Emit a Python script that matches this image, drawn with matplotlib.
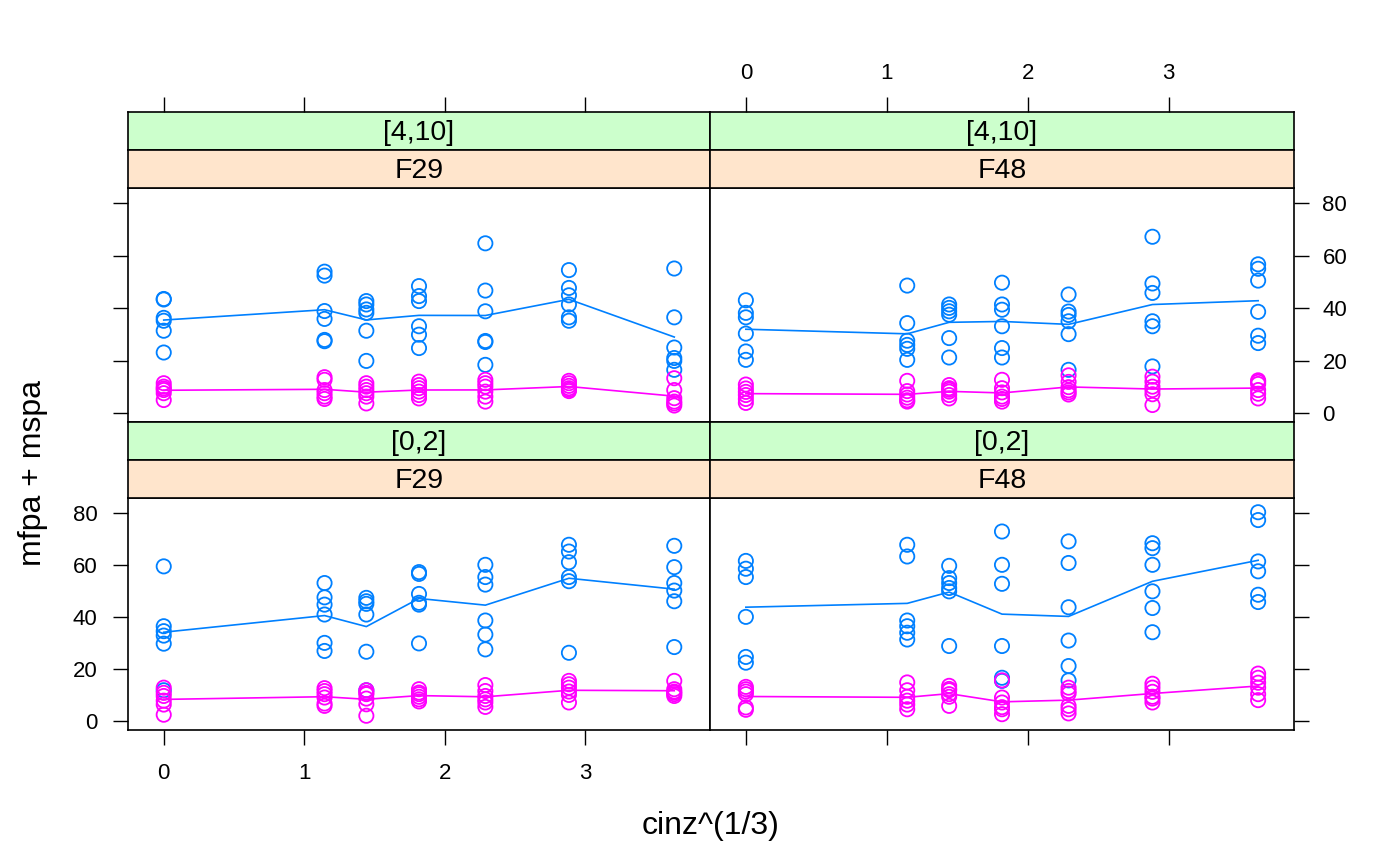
import numpy as np
import matplotlib
matplotlib.use("Agg")
import matplotlib.pyplot as plt

plt.rcParams['font.family'] = ['Liberation Sans', 'DejaVu Sans']

# cinz levels (x axis is cinz^(1/3))
cinz = [0, 1.5, 3, 6, 12, 24, 48]

# ---- panel F29, cinz group [4,10] ----
f29_hi_mfpa = [
    [43.6, 43.4, 36.4, 35.3, 31.5, 23.2],
    [54.0, 52.5, 39.0, 36.0, 28.0, 27.5],
    [42.8, 41.5, 39.6, 38.3, 31.5, 20.0],
    [48.5, 44.7, 42.8, 33.2, 30.0, 24.9],
    [64.8, 46.8, 38.9, 27.6, 27.2, 18.5],
    [54.6, 47.8, 45.0, 41.5, 36.6, 35.3],
    [55.2, 36.6, 25.1, 21.1, 20.0, 16.6],
]
f29_hi_mspa = [
    [11.5, 10.2, 9.5, 8.9, 7.7, 5.1],
    [13.8, 12.8, 8.9, 7.7, 6.4, 5.5],
    [11.5, 10.2, 8.9, 7.7, 6.4, 3.8],
    [12.1, 10.8, 9.6, 8.3, 7.0, 5.7],
    [12.8, 11.5, 10.2, 8.3, 6.4, 4.5],
    [12.4, 11.5, 10.5, 9.6, 9.0, 8.5],
    [13.4, 8.9, 5.8, 4.5, 3.8, 3.0],
]
# ---- panel F48, [4,10] ----
f48_hi_mfpa = [
    [43.1, 38.3, 36.6, 30.4, 23.6, 20.4],
    [48.7, 34.4, 27.7, 26.1, 24.6, 20.4],
    [41.5, 40.2, 38.9, 37.6, 28.7, 21.3],
    [49.8, 41.5, 39.5, 33.2, 24.9, 21.3],
    [45.3, 38.8, 37.5, 35.1, 30.2, 16.6],
    [67.3, 49.5, 45.9, 35.1, 33.2, 17.9],
    [56.8, 55.1, 50.6, 38.7, 29.6, 26.8],
]
f48_hi_mspa = [
    [11.0, 9.5, 8.2, 7.0, 5.5, 4.0],
    [12.4, 8.5, 7.2, 6.0, 5.0, 4.5],
    [10.8, 9.6, 9.0, 8.3, 7.0, 5.7],
    [12.8, 9.6, 8.0, 6.4, 5.5, 4.5],
    [14.5, 12.0, 10.0, 8.8, 8.0, 7.2],
    [14.0, 12.1, 10.2, 8.9, 7.3, 3.2],
    [12.6, 12.0, 11.2, 8.9, 7.5, 5.7],
]
# ---- panel F29, [0,2] ----
f29_lo_mfpa = [
    [59.6, 36.6, 34.7, 33.0, 29.9, 12.0],
    [53.2, 47.7, 44.9, 41.1, 30.2, 27.1],
    [47.5, 46.2, 45.2, 41.1, 26.8, 12.0],
    [57.4, 56.7, 49.0, 45.6, 44.9, 30.0],
    [60.2, 55.5, 52.6, 38.8, 33.4, 27.7],
    [67.9, 65.3, 61.2, 55.5, 53.9, 26.4],
    [67.5, 59.3, 53.2, 50.3, 46.2, 28.6],
]
f29_lo_mspa = [
    [13.0, 11.0, 9.8, 8.0, 6.5, 2.6],
    [12.8, 11.7, 10.5, 9.2, 6.9, 6.0],
    [12.0, 11.0, 10.5, 8.8, 6.6, 2.2],
    [12.4, 11.1, 10.5, 9.5, 8.5, 7.7],
    [14.0, 11.7, 9.8, 8.5, 7.3, 5.6],
    [15.6, 14.3, 13.0, 11.5, 10.2, 7.3],
    [15.6, 12.4, 11.5, 11.1, 10.5, 9.8],
]
# ---- panel F48, [0,2] ----
f48_lo_mfpa = [
    [61.7, 58.7, 55.5, 40.2, 24.8, 22.6],
    [67.9, 63.4, 38.8, 36.6, 34.1, 31.5],
    [59.8, 55.1, 53.2, 51.3, 50.0, 29.0],
    [73.0, 60.2, 52.9, 29.0, 16.8, 15.6],
    [69.2, 60.9, 43.9, 31.1, 21.3, 15.8],
    [68.5, 66.6, 60.2, 50.0, 43.6, 34.3],
    [80.4, 77.4, 61.5, 57.7, 48.7, 45.9],
]
f48_lo_mspa = [
    [13.3, 12.4, 11.5, 10.5, 5.4, 4.5],
    [15.0, 12.0, 9.5, 8.0, 6.5, 4.7],
    [13.7, 12.5, 12.0, 10.5, 9.5, 6.0],
    [15.8, 9.2, 7.3, 5.5, 4.7, 2.8],
    [13.0, 11.7, 10.7, 6.0, 4.7, 3.1],
    [14.5, 13.0, 11.4, 9.5, 8.8, 7.3],
    [18.4, 16.8, 14.9, 13.0, 10.5, 8.2],
]

x_ticks = [0, 1, 2, 3]
y_ticks = [0, 20, 40, 60, 80]
col_mfpa = '#0080ff'
col_mspa = '#ff00ff'
strip_green = '#ccffcc'
strip_orange = '#ffe5cc'

W, H = 1400, 866
fig = plt.figure(figsize=(W / 100, H / 100), dpi=100)

xs = np.cbrt(np.array(cinz, dtype=float))
xr = xs.max() - xs.min()
XLIM = (xs.min() - 0.07 * xr, xs.max() + 0.07 * xr)
allv = np.concatenate([np.ravel(a) for a in (f29_hi_mfpa, f29_hi_mspa, f48_hi_mfpa, f48_hi_mspa,
                                             f29_lo_mfpa, f29_lo_mspa, f48_lo_mfpa, f48_lo_mspa)])
yr = allv.max() - allv.min()
YLIM = (allv.min() - 0.07 * yr, allv.max() + 0.07 * yr)

TICK_FS = 16
STRIP_FS = 20.5
LAB_FS = 23


def px_axes(x0, y0, x1, y1):
    return fig.add_axes([x0 / W, 1 - y1 / H, (x1 - x0) / W, (y1 - y0) / H])


def style_frame(ax):
    for s in ax.spines.values():
        s.set_linewidth(1.2)
        s.set_color('black')


def strip(x0, x1, y0, text, color):
    ax = px_axes(x0, y0, x1, y0 + 38)
    ax.set_facecolor(color)
    ax.set_xlim(XLIM)
    ax.set_yticks([])
    ax.set_xticks([])
    style_frame(ax)
    ax.text(0.5, 0.46, text, transform=ax.transAxes, ha='center', va='center',
            fontsize=STRIP_FS, color='black')
    return ax


def panel(x0, x1, y0, y1, mfpa, mspa):
    ax = px_axes(x0, y0, x1, y1)
    style_frame(ax)
    for data, col in ((mfpa, col_mfpa), (mspa, col_mspa)):
        for xv, vals in zip(xs, data):
            ax.scatter(np.full(len(vals), xv), vals, s=105, facecolors='none',
                       edgecolors=col, linewidths=1.3, zorder=3)
        means = [np.mean(v) for v in data]
        ax.plot(xs, means, color=col, lw=1.2, zorder=2)
    ax.set_xlim(XLIM)
    ax.set_ylim(YLIM)
    ax.set_xticks(x_ticks)
    ax.set_yticks(y_ticks)
    ax.tick_params(direction='out', length=10.5, width=1.0, labelsize=TICK_FS,
                   bottom=False, top=False, left=False, right=False,
                   labelbottom=False, labeltop=False, labelleft=False, labelright=False)
    return ax


LX0, LX1, RX0, RX1 = 128, 710, 710, 1294
TOP_Y0, TOP_Y1 = 188, 422
BOT_Y0, BOT_Y1 = 498, 730

# panels
ax_tl = panel(LX0, LX1, TOP_Y0, TOP_Y1, f29_hi_mfpa, f29_hi_mspa)
ax_tr = panel(RX0, RX1, TOP_Y0, TOP_Y1, f48_hi_mfpa, f48_hi_mspa)
ax_bl = panel(LX0, LX1, BOT_Y0, BOT_Y1, f29_lo_mfpa, f29_lo_mspa)
ax_br = panel(RX0, RX1, BOT_Y0, BOT_Y1, f48_lo_mfpa, f48_lo_mspa)

# strips
sg_tl = strip(LX0, LX1, 112, '[4,10]', strip_green)
strip(LX0, LX1, 150, 'F29', strip_orange)
sg_tr = strip(RX0, RX1, 112, '[4,10]', strip_green)
strip(RX0, RX1, 150, 'F48', strip_orange)
strip(LX0, LX1, 422, '[0,2]', strip_green)
strip(LX0, LX1, 460, 'F29', strip_orange)
strip(RX0, RX1, 422, '[0,2]', strip_green)
strip(RX0, RX1, 460, 'F48', strip_orange)

# axes ticks (lattice alternating)
ax_tl.tick_params(left=True)
ax_bl.tick_params(left=True, labelleft=True, bottom=True, labelbottom=True, pad=11.5)
ax_bl.tick_params(axis='x', pad=13)
ax_br.tick_params(bottom=True, right=True)
ax_tr.tick_params(right=True, labelright=True, pad=10)

for sax, lab in ((sg_tl, False), (sg_tr, True)):
    sax.set_xticks(x_ticks)
    sax.tick_params(axis='x', direction='out', length=10.5, width=1.0, labelsize=TICK_FS,
                    bottom=False, labelbottom=False, top=True, labeltop=lab, pad=10)

fig.text(711 / W, 1 - 826 / H, 'cinz^(1/3)', ha='center', va='center', fontsize=LAB_FS)
fig.text(33 / W, 1 - 473 / H, 'mfpa + mspa', ha='center', va='center', rotation=90,
         fontsize=LAB_FS)

fig.savefig('out.png', dpi=100)
